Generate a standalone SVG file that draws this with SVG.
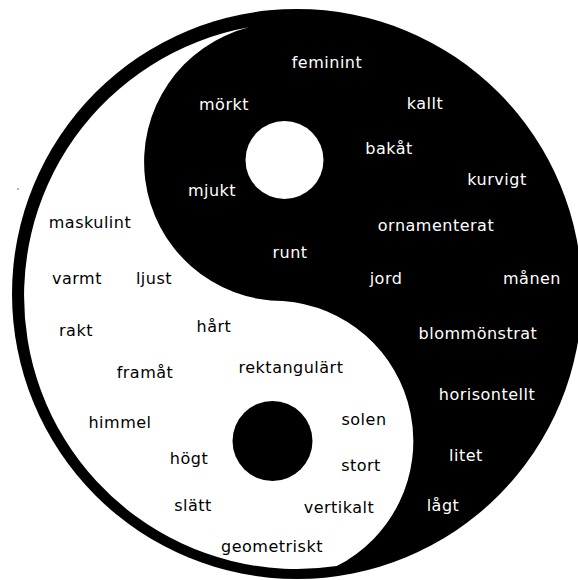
<svg xmlns="http://www.w3.org/2000/svg" width="578" height="580" viewBox="0 0 578 580">
<style>
text{font-family:"DejaVu Sans","Verdana",sans-serif;font-size:16px;letter-spacing:0.5px;text-anchor:middle}
.w{fill:#ffffff}
.b{fill:#000000}
</style>
<rect width="578" height="580" fill="#ffffff"/>
<g id="symbol">
<circle cx="297" cy="294" r="285" fill="#000000"/>
<path d="M248.8,27.3 A273,273 0 0 0 336.75,566.1 A140.4,140.4 0 0 0 283,301 A139,139 0 0 1 248.8,27.3 Z" fill="#ffffff"/>
<circle cx="284.5" cy="160" r="39" fill="#ffffff"/>
<circle cx="272.5" cy="441" r="40" fill="#000000"/>
<circle cx="18" cy="189" r="0.8" fill="#555555"/>
</g>
<g id="labels">
<text class="w" x="327" y="68">feminint</text>
<text class="w" x="224" y="110">mörkt</text>
<text class="w" x="425" y="109">kallt</text>
<text class="w" x="389" y="154">bakåt</text>
<text class="w" x="497" y="185">kurvigt</text>
<text class="w" x="212" y="196">mjukt</text>
<text class="b" x="90" y="228">maskulint</text>
<text class="w" x="436" y="231">ornamenterat</text>
<text class="w" x="290" y="258">runt</text>
<text class="b" x="77" y="284">varmt</text>
<text class="b" x="154" y="284">ljust</text>
<text class="w" x="386" y="284">jord</text>
<text class="w" x="532" y="284">månen</text>
<text class="b" x="76" y="336">rakt</text>
<text class="b" x="214" y="332">hårt</text>
<text class="w" x="478" y="339">blommönstrat</text>
<text class="b" x="145" y="378">framåt</text>
<text class="b" x="291" y="373">rektangulärt</text>
<text class="w" x="487" y="400">horisontellt</text>
<text class="b" x="120" y="428">himmel</text>
<text class="b" x="364" y="425">solen</text>
<text class="w" x="466" y="461">litet</text>
<text class="b" x="189" y="464">högt</text>
<text class="b" x="361" y="471">stort</text>
<text class="b" x="193" y="511">slätt</text>
<text class="b" x="339" y="513">vertikalt</text>
<text class="w" x="443" y="511">lågt</text>
<text class="b" x="272" y="552">geometriskt</text>
</g>
</svg>
